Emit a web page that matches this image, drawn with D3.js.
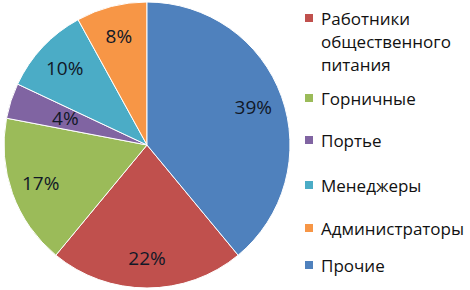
<!DOCTYPE html>
<html><head><meta charset="utf-8">
<script src="https://cdn.jsdelivr.net/npm/d3@7"></script>
<style>html,body{margin:0;padding:0;background:#fff;}</style>
</head><body>
<svg id="c" width="470" height="290"></svg>
<script>
const categories = ["Работники общественного питания", "Горничные", "Портье", "Менеджеры", "Администраторы", "Прочие"];
const values = [22, 17, 4, 10, 8, 39];
const colors = ["#C0504D", "#9BBB59", "#8064A2", "#4BACC6", "#F79646", "#4F81BD"];
const legendLines = [["Работники", "общественного", "питания"], ["Горничные"], ["Портье"], ["Менеджеры"], ["Администраторы"], ["Прочие"]];

const svg = d3.select("#c");
const cx = 147, cy = 145, R = 143;
const total = d3.sum(values);
const offset = 2 * Math.PI * values[5] / total;

const pie = d3.pie().sort(null).value(d => d)
  .startAngle(offset).endAngle(offset + 2 * Math.PI);
const arcs = pie(values);
const arc = d3.arc().innerRadius(0).outerRadius(R);
const g = svg.append("g").attr("transform", `translate(${cx},${cy})`);
g.selectAll("path").data(arcs).join("path")
  .attr("d", arc)
  .attr("fill", (d, i) => colors[i])
  .attr("stroke", "#fff").attr("stroke-width", 1);

g.selectAll("text").data(arcs).join("text")
  .attr("transform", d => {
    const a = (d.startAngle + d.endAngle) / 2;
    const rr = R * (d.value < 5 ? 0.6 : 0.79);
    return `translate(${Math.sin(a) * rr},${-Math.cos(a) * rr})`;
  })
  .attr("text-anchor", "middle").attr("dominant-baseline", "central")
  .attr("font-family", "Open Sans, sans-serif").attr("font-size", 19)
  .attr("fill", "#111827")
  .text(d => Math.round(d.value / total * 100) + "%");

const legendY = [18, 98, 140, 185, 228, 265];
const lg = svg.append("g");
categories.forEach((c, i) => {
  const y = legendY[i];
  lg.append("rect").attr("x", 305).attr("y", y - 4).attr("width", 8).attr("height", 8).attr("fill", colors[i]);
  const t = lg.append("text").attr("font-family", "Open Sans, sans-serif").attr("font-size", 17).attr("fill", "#111");
  legendLines[i].forEach((ln, j) => {
    t.append("tspan").attr("x", 321).attr("y", y + j * 23).attr("dominant-baseline", "central").text(ln);
  });
});
</script>
</body></html>
